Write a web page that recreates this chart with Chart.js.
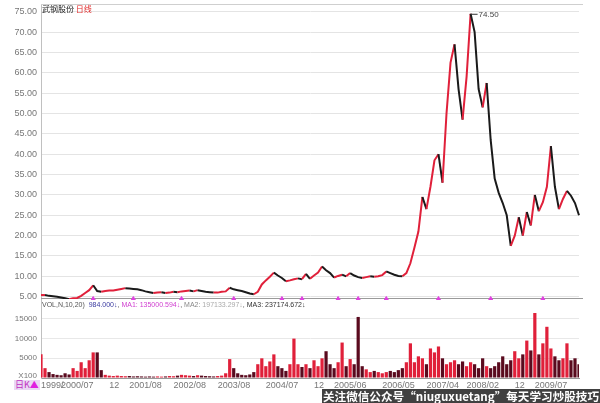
<!DOCTYPE html>
<html>
<head>
<meta charset="utf-8">
<script src="https://cdn.jsdelivr.net/npm/chart.js@4.4.0/dist/chart.umd.min.js"></script>
<style>
body{margin:0;width:600px;height:403px;overflow:hidden;background:#fff;position:relative;font-family:"Liberation Sans",Arial,sans-serif}
#wp{position:absolute;left:0;top:0;width:600px;height:300px}
#wv{position:absolute;left:0;top:299px;width:600px;height:104px;z-index:1}
.t{position:absolute;white-space:nowrap;z-index:2}
.vl{position:absolute;z-index:3;width:37px;text-align:right;font-size:8px;line-height:10px;color:#777;font-family:"Liberation Sans"}
</style>
</head>
<body>
<div id="wp"><canvas id="price"></canvas></div>
<div id="wv"><canvas id="vol"></canvas></div>

<div class="t" style="left:42px;top:3px;font-size:8px;color:#222;font-family:'Noto Sans CJK SC'">武钢股份 <span style="color:#e02828">日线</span></div>
<div class="t" style="left:42px;top:301px;font-size:7px;line-height:8px;color:#555;font-family:'Liberation Sans'">VOL,N,10,20)&nbsp; <span style="color:#3a3aa0">984.000↓</span>, <span style="color:#d040d0">MA1: 135000.594↓</span>, <span style="color:#888">MA2: </span><span style="color:#aaa">197133.297↓</span>, <span style="color:#333">MA3: 237174.672↓</span></div>
<div class="t" style="left:14px;top:380px;height:10px;overflow:hidden;font-size:9px;line-height:10px;color:#c030c0;background:#ead8f4;padding:0 1px;font-family:'Noto Sans CJK SC'">日K<span style="color:#e020e0">▲</span></div>
<div class="t" style="left:322px;top:389px;width:278px;height:14px;background:rgba(30,30,30,0.85);color:#fff;font-size:11.6px;line-height:14px;font-weight:bold;font-family:'Noto Sans CJK SC';text-align:center">关注微信公众号“niuguxuetang”每天学习炒股技巧</div>

<script>
// closing price, one sample every ~4px of the original
var closes = [5.4,5.4,5.2,5.1,5.0,4.8,4.6,4.4,4.6,4.7,
  5.2,5.9,6.6,7.8,6.4,6.2,6.4,6.5,6.5,6.7,
  6.9,7.1,7.0,6.9,6.8,6.6,6.3,6.1,5.9,6.0,
  6.1,5.9,6.0,6.2,6.1,6.3,6.4,6.5,6.3,6.6,
  6.4,6.2,6.1,6.0,6.0,6.2,6.3,7.2,6.8,6.6,
  6.4,6.1,5.8,5.6,6.2,8.0,9.0,9.9,10.9,10.2,
  9.6,8.8,9.0,9.3,9.5,9.3,10.6,9.4,10.2,10.9,
  12.4,11.5,10.8,9.7,10.1,10.4,10.0,10.8,10.2,9.8,
  9.6,9.8,10.0,9.9,10.0,10.3,11.2,10.8,10.4,10.1,
  10.0,10.8,13.2,17.0,21.0,29.5,26.5,32.0,38.5,40.0,
  33.0,50.0,62.5,67.0,56.0,48.5,59.0,74.5,70.0,56.0,
  51.5,57.5,43.5,34.0,30.5,28.0,25.0,17.5,20.0,24.5,
  20.0,25.8,22.5,30.0,26.0,28.2,32.0,42.0,32.0,26.5,
  29.0,31.0,29.8,28.0,25.0];

// volume (x100 lots)
var volumes = [6000,2500,1500,1000,800,700,1200,900,2500,1800,
  4000,2500,4500,6500,6500,2000,800,600,500,600,
  500,450,500,400,450,400,350,400,350,400,
  350,400,500,450,600,800,700,600,500,700,
  600,500,450,400,500,600,1200,4800,2500,1200,
  800,700,900,1500,3500,5000,3000,4200,6000,3000,
  2500,1800,3500,10000,3500,2800,3500,2500,4500,3000,
  5000,6800,3500,2500,4000,9000,3000,4800,3500,15500,
  3000,2200,1500,1800,1500,1200,1500,1800,1500,2000,
  2500,4000,8800,4000,5500,5000,3500,7500,6500,8000,
  5000,3500,4000,4500,3500,4200,3000,4000,3500,2500,
  5000,3000,2500,3000,4000,5500,3500,4500,6800,5000,
  6000,9500,7000,16500,6000,8800,13000,7500,5500,4500,
  5000,8800,4500,5000,3500];

// date labels under the volume panel
var dateIdx  = [0, 5, 17, 22, 33, 44, 56, 68, 73, 85, 96, 106, 118, 123];
var dateText = ['1999/','2000/07','12','2001/08','2002/08','2003/08','2004/07','12','2005/06','2006/05','2007/04','2008/02','12','2009/07'];

// info markers along the bottom of the price panel
var markIdx = [13, 23, 35, 48, 60, 65, 74, 79, 86, 99, 112, 125];

var priceTicks = [5, 10, 15, 20, 25, 30, 35, 40, 45, 50, 55, 60, 65, 70, 75];
var volTicks = [0, 5000, 10000, 15000];

var PRICE_MIN = 4.43, PRICE_MAX = 76.9;
var VOL_MAX = 19800;
var RED = '#e0203a', DARK = '#1a1a1a';

var labels = closes.map(function(v, i){
  var k = dateIdx.indexOf(i);
  return k >= 0 ? dateText[k] : '';
});
var marks = closes.map(function(v, i){ return markIdx.indexOf(i) >= 0 ? PRICE_MIN : null; });

function fixedTicks(list){
  return function(s){ s.ticks = list.map(function(v){ return { value: v }; }); };
}

var frame = {
  id: 'frame',
  beforeDatasetsDraw: function(chart){
    var a = chart.chartArea, c = chart.ctx;
    c.save();
    c.strokeStyle = '#cfcfcf'; c.lineWidth = 1;
    c.beginPath();
    c.moveTo(a.left, a.top + 0.5); c.lineTo(a.right + 4, a.top + 0.5);
    c.stroke();
    c.strokeStyle = '#9a9a9a';
    c.beginPath();
    c.moveTo(a.left, a.bottom - 0.5); c.lineTo(a.right + 4, a.bottom - 0.5);
    c.stroke();
    c.restore();
  }
};

var peakLabel = {
  id: 'peakLabel',
  afterDatasetsDraw: function(chart){
    var d = chart.data.datasets[0].data;
    var mi = 0;
    for (var i = 1; i < d.length; i++) if (d[i] > d[mi]) mi = i;
    var p = chart.getDatasetMeta(0).data[mi];
    var c = chart.ctx;
    c.save();
    c.strokeStyle = '#333'; c.lineWidth = 1;
    c.beginPath(); c.moveTo(p.x, p.y + 0.5); c.lineTo(p.x + 7, p.y + 0.5); c.stroke();
    c.fillStyle = '#444'; c.font = '8px "Liberation Sans"';
    c.textBaseline = 'middle';
    c.fillText(d[mi].toFixed(2), p.x + 8, p.y + 1);
    c.restore();
  }
};

Chart.defaults.animation = false;
Chart.defaults.font.family = '"Liberation Sans", Arial, sans-serif';

new Chart(document.getElementById('price'), {
  type: 'line',
  data: {
    labels: labels,
    datasets: [{
      data: closes,
      borderColor: DARK,
      borderWidth: 2,
      pointRadius: 0,
      tension: 0,
      segment: {
        borderColor: function(ctx){ return ctx.p1.parsed.y >= ctx.p0.parsed.y ? RED : DARK; }
      }
    }, {
      data: marks,
      showLine: false,
      pointStyle: 'triangle',
      pointRadius: 2.5,
      pointBackgroundColor: '#e040e0',
      pointBorderColor: '#e040e0',
      clip: false
    }]
  },
  options: {
    responsive: true,
    maintainAspectRatio: false,
    layout: { padding: { top: 4, bottom: 1, right: 21, left: 0 }, autoPadding: false },
    plugins: { legend: { display: false }, tooltip: { enabled: false } },
    scales: {
      x: { display: false, offset: false },
      y: {
        bounds: 'data',
        min: PRICE_MIN, max: PRICE_MAX,
        afterBuildTicks: fixedTicks(priceTicks),
        afterFit: function(s){ s.width = 41; s.paddingTop = 0; s.paddingBottom = 0; },
        grid: { color: '#e4e4e4', drawTicks: false },
        border: { display: true, color: '#c0c0c0' },
        ticks: {
          autoSkip: false, padding: 4,
          color: '#777', font: { size: 9 },
          callback: function(v){ return v.toFixed(2); }
        }
      }
    }
  },
  plugins: [frame, peakLabel]
});

var volChart = new Chart(document.getElementById('vol'), {
  type: 'bar',
  data: {
    labels: labels,
    datasets: [{
      data: volumes,
      barPercentage: 0.8,
      categoryPercentage: 1,
      backgroundColor: function(ctx){
        var i = ctx.dataIndex;
        return (i === 0 || closes[i] >= closes[i - 1]) ? RED : '#5a0a1e';
      }
    }]
  },
  options: {
    responsive: true,
    maintainAspectRatio: false,
    layout: { padding: { top: 1, bottom: 0, right: 21, left: 0 }, autoPadding: false },
    plugins: { legend: { display: false }, tooltip: { enabled: false } },
    scales: {
      x: {
        offset: false,
        afterFit: function(s){ s.height = 25; },
        grid: { display: false, drawTicks: false },
        border: { display: true, color: '#999' },
        ticks: {
          autoSkip: false, maxRotation: 0, align: 'start', padding: 2,
          color: '#777', font: { size: 9 },
          callback: function(v, i){ return labels[i]; }
        }
      },
      y: {
        bounds: 'data',
        min: 0, max: VOL_MAX,
        afterBuildTicks: fixedTicks(volTicks),
        afterFit: function(s){ s.width = 41; s.paddingTop = 0; s.paddingBottom = 0; },
        grid: { color: '#e8e8e8', drawTicks: false },
        border: { display: true, color: '#c0c0c0' },
        ticks: { display: false }
      }
    }
  }
});

// volume axis labels as text placed from the chart's own y scale
var wv = document.getElementById('wv');
var ys = volChart.scales.y;
volTicks.forEach(function(v){
  var el = document.createElement('div');
  el.className = 'vl';
  el.textContent = v === 0 ? 'X100' : String(v);
  el.style.left = '0px';
  el.style.top = (wv.offsetTop + ys.getPixelForValue(v) - (v === 0 ? 7 : 5)) + 'px';
  document.body.appendChild(el);
});
</script>
</body>
</html>
